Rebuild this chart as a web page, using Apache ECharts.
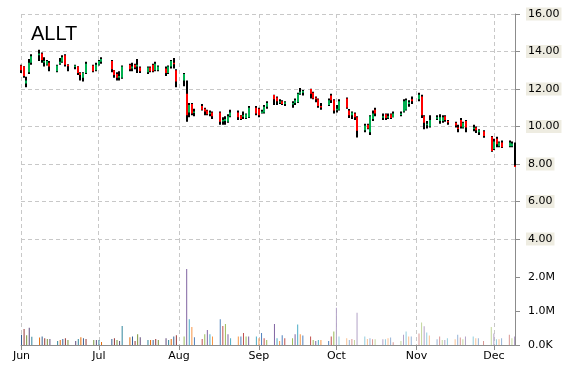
<!DOCTYPE html>
<html>
<head>
<meta charset="utf-8">
<script src="https://cdn.jsdelivr.net/npm/echarts@6/dist/echarts.min.js"></script>
<style>html,body{margin:0;padding:0;background:#fff}#c{width:570px;height:370px}</style>
</head>
<body>
<div id="c"></div>
<script>
const title = 'ALLT';
const dates = ['2015-06-01','2015-06-02','2015-06-03','2015-06-04','2015-06-05','2015-06-08','2015-06-09','2015-06-10','2015-06-11','2015-06-12','2015-06-15','2015-06-16','2015-06-17','2015-06-18','2015-06-19','2015-06-22','2015-06-23','2015-06-24','2015-06-25','2015-06-26','2015-06-29','2015-06-30',
'2015-07-01','2015-07-02','2015-07-06','2015-07-07','2015-07-08','2015-07-09','2015-07-10','2015-07-13','2015-07-14','2015-07-15','2015-07-16','2015-07-17','2015-07-20','2015-07-21','2015-07-22','2015-07-23','2015-07-24','2015-07-27','2015-07-28','2015-07-29','2015-07-30','2015-07-31',
'2015-08-03','2015-08-04','2015-08-05','2015-08-06','2015-08-07','2015-08-10','2015-08-11','2015-08-12','2015-08-13','2015-08-14','2015-08-17','2015-08-18','2015-08-19','2015-08-20','2015-08-21','2015-08-24','2015-08-25','2015-08-26','2015-08-27','2015-08-28','2015-08-31',
'2015-09-01','2015-09-02','2015-09-03','2015-09-04','2015-09-07','2015-09-08','2015-09-09','2015-09-10','2015-09-11','2015-09-14','2015-09-15','2015-09-16','2015-09-17','2015-09-18','2015-09-21','2015-09-22','2015-09-23','2015-09-24','2015-09-25','2015-09-28','2015-09-29','2015-09-30',
'2015-10-01','2015-10-02','2015-10-05','2015-10-06','2015-10-07','2015-10-08','2015-10-09','2015-10-12','2015-10-13','2015-10-14','2015-10-15','2015-10-16','2015-10-19','2015-10-20','2015-10-21','2015-10-22','2015-10-23','2015-10-26','2015-10-27','2015-10-28','2015-10-29','2015-10-30',
'2015-11-02','2015-11-03','2015-11-04','2015-11-05','2015-11-06','2015-11-09','2015-11-10','2015-11-11','2015-11-12','2015-11-13','2015-11-16','2015-11-17','2015-11-18','2015-11-19','2015-11-20','2015-11-23','2015-11-24','2015-11-25','2015-11-27','2015-11-30',
'2015-12-01','2015-12-02','2015-12-03','2015-12-04','2015-12-07','2015-12-08','2015-12-09'];
const open = [13.25,13.2,12.3,12.9,13.4,13.8,13.9,13.45,13.3,13.4,12.95,13.35,13.45,13.8,13.3,13.2,13.2,12.85,12.6,12.85,13.25,13.0,
13.3,13.45,13.5,13.0,12.8,12.6,12.6,13.3,13.1,13.3,13.2,13.15,12.9,13.15,13.3,13.0,13.0,13.1,12.85,13.2,13.4,13.0,
12.45,11.75,10.75,11.2,10.75,11.1,10.95,10.85,10.7,10.75,10.75,10.3,10.3,10.25,10.55,10.75,10.6,10.55,10.45,10.5,11.0,
10.95,10.75,10.75,11.05,11.68,11.55,11.3,11.35,11.2,11.2,11.25,11.3,11.75,11.8,12.0,11.8,11.55,11.45,11.1,11.15,11.65,11.4,
10.9,10.9,11.5,10.85,10.6,10.7,10.5,9.8,10.1,9.7,10.4,10.9,10.5,10.65,10.5,10.65,10.5,10.65,10.8,10.9,11.2,11.45,
11.45,11.6,10.55,10.1,10.0,10.45,10.3,10.3,10.55,10.3,10.2,9.95,10.35,9.95,10.3,9.9,9.95,9.7,9.75,9.45,
8.8,9.35,8.95,9.15,8.95,8.95,7.92];
const high = [13.3,13.22,12.65,13.6,13.85,14.1,13.95,13.7,13.55,13.5,13.3,13.65,13.8,13.85,13.32,13.3,13.22,12.9,12.9,13.45,13.3,13.4,
13.55,13.7,13.55,13.02,12.9,12.95,13.25,13.35,13.4,13.35,13.6,13.2,13.2,13.2,13.35,13.45,13.25,13.2,13.25,13.55,13.65,13.05,
12.85,12.45,11.25,11.25,10.95,11.2,11.0,10.9,10.85,10.8,10.8,10.5,10.55,10.65,10.9,10.85,10.62,10.8,10.7,11.1,11.1,
11.0,10.9,11.15,11.35,11.7,11.6,11.45,11.4,11.35,11.35,11.5,11.8,12.05,11.95,12.02,11.85,11.6,11.5,11.25,11.5,11.75,11.45,
11.15,11.45,11.55,10.93,10.8,10.75,10.55,10.15,10.15,10.6,10.85,11.0,10.7,10.7,10.7,10.7,10.8,10.8,11.45,11.5,11.4,11.6,
11.8,11.7,10.6,10.3,10.6,10.6,10.65,10.6,10.6,10.35,10.25,10.1,10.45,10.25,10.35,10.1,10.0,9.85,9.8,9.5,
9.35,9.45,9.2,9.25,9.25,9.2,9.15];
const low = [12.85,12.6,12.1,12.8,13.3,13.5,13.4,13.2,13.25,12.95,12.9,13.3,13.4,13.2,12.95,13.05,12.75,12.45,12.4,12.8,12.9,12.95,
13.25,13.35,12.9,12.6,12.45,12.45,12.55,12.95,12.95,13.05,12.85,12.85,12.8,12.9,12.9,12.95,12.95,12.7,12.8,13.1,13.1,12.1,
12.15,10.25,10.5,10.6,10.55,10.85,10.6,10.6,10.55,10.4,10.1,10.1,10.1,10.2,10.5,10.35,10.35,10.4,10.4,10.45,10.6,
10.5,10.7,10.7,10.95,11.15,11.15,11.2,11.15,11.1,11.0,11.15,11.25,11.7,11.65,11.5,11.45,11.3,11.0,10.9,11.1,11.25,10.7,
10.75,10.85,10.95,10.45,10.4,10.35,9.42,9.7,9.85,9.55,10.3,10.55,10.35,10.35,10.4,10.4,10.5,10.55,10.75,10.85,11.05,11.2,
11.35,10.45,9.85,9.9,9.95,10.35,10.15,10.2,10.25,10.1,9.95,9.7,9.9,9.9,9.7,9.75,9.65,9.55,9.4,8.65,
8.75,8.9,8.9,8.85,8.9,8.9,7.85];
const close = [13.0,12.7,12.45,13.4,13.75,13.9,13.55,13.5,13.5,13.2,13.25,13.45,13.7,13.3,13.22,13.25,12.85,12.75,12.85,13.35,12.95,13.3,
13.5,13.6,13.05,12.75,12.6,12.7,13.2,13.05,13.2,13.15,13.3,12.95,13.15,12.95,12.95,13.35,13.2,12.85,13.2,13.5,13.35,12.4,
12.8,10.6,11.15,10.7,10.8,10.9,10.8,10.65,10.75,10.55,10.25,10.35,10.4,10.55,10.75,10.5,10.4,10.6,10.65,11.0,10.7,
10.6,10.8,11.05,11.25,11.45,11.35,11.35,11.2,11.3,11.25,11.4,11.75,11.85,11.9,11.75,11.5,11.45,11.1,11.05,11.4,11.4,10.85,
10.95,11.35,11.0,10.6,10.75,10.5,9.78,10.05,9.9,10.55,10.7,10.7,10.55,10.45,10.55,10.45,10.7,10.7,11.35,11.4,11.3,11.35,
11.7,10.6,10.2,10.15,10.35,10.5,10.5,10.5,10.35,10.25,10.05,9.9,10.0,10.2,9.95,9.95,9.8,9.8,9.5,8.7,
9.2,9.05,9.15,8.9,9.15,9.1,7.86];
const volume = [300000,470000,290000,510000,240000,220000,250000,200000,180000,180000,120000,150000,180000,200000,150000,120000,180000,230000,200000,180000,150000,150000,
150000,90000,180000,200000,150000,120000,560000,230000,250000,120000,320000,230000,150000,150000,150000,180000,150000,200000,150000,180000,250000,290000,
250000,2240000,760000,530000,230000,180000,320000,440000,320000,250000,760000,560000,620000,320000,200000,250000,250000,350000,250000,250000,250000,
200000,350000,200000,150000,620000,200000,120000,290000,200000,200000,320000,600000,320000,280000,250000,150000,120000,150000,150000,120000,250000,400000,
1100000,250000,200000,150000,180000,150000,950000,250000,180000,200000,170000,170000,170000,170000,200000,220000,80000,120000,300000,400000,250000,250000,
340000,660000,550000,370000,280000,170000,250000,150000,150000,200000,170000,300000,220000,170000,250000,250000,200000,200000,120000,530000,
340000,170000,170000,200000,300000,200000,250000];
const priceTicks = [4, 16, 2];
const volumeTicks = [0, 1000000, 2000000];

const upColor = '#00b050', downColor = '#ff0000';
const paletteDark = ['#376092','#953735','#77933c','#604a7b','#31859c','#e46c0a'];
const paletteNormal = ['#4f81bd','#c0504d','#9bbb59','#8064a2','#4bacc6','#f79646'];
const paletteLight = ['#95b3d7','#d99694','#c3d69b','#b3a2c7','#93cddd','#fac090'];
function volColor(i) {
  const m = +dates[i].slice(5, 7);
  const p = m <= 7 ? paletteDark : (m <= 9 ? paletteNormal : paletteLight);
  return p[i % 6];
}

const font = 'DejaVu Sans';
const chart = echarts.init(document.getElementById('c'), null, {renderer: 'canvas'});
const dash = {type: [4, 3], color: '#c8c8c8', width: 1};
const xMin = dates[0], xMax = dates[dates.length - 1];
const monthMs = 30 * 24 * 3600 * 1000;

chart.setOption({
  animation: false,
  backgroundColor: '#fff',
  title: {text: title, left: 26, top: 19, textStyle: {fontFamily: 'Liberation Sans', fontSize: 20, fontWeight: 'normal', color: '#000'}},
  grid: [
    {left: 21, right: 55, top: 14, height: 225},
    {left: 21, right: 55, top: 239, bottom: 25}
  ],
  xAxis: [
    {type: 'time', gridIndex: 0, min: xMin, max: xMax, splitNumber: 7, minInterval: monthMs, maxInterval: monthMs * 1.05,
     axisLine: {show: false}, axisTick: {show: false}, axisLabel: {show: false},
     splitLine: {show: true, lineStyle: dash}},
    {type: 'time', gridIndex: 1, min: xMin, max: xMax, splitNumber: 7, minInterval: monthMs, maxInterval: monthMs * 1.05,
     axisLine: {show: true, lineStyle: {color: '#8c8c8c'}},
     axisTick: {show: true, length: 5, lineStyle: {color: '#8c8c8c'}},
     axisLabel: {color: '#000', fontFamily: font, fontSize: 11, margin: 6, formatter: '{MMM}', hideOverlap: false},
     splitLine: {show: true, lineStyle: dash}}
  ],
  yAxis: [
    {type: 'value', gridIndex: 0, position: 'right', min: priceTicks[0], max: priceTicks[1], interval: priceTicks[2],
     axisLine: {show: true, lineStyle: {color: '#8c8c8c'}},
     axisTick: {show: true, length: 5, lineStyle: {color: '#8c8c8c'}},
     axisLabel: {color: '#000', fontFamily: font, fontSize: 11, margin: 11, backgroundColor: '#eeece1', padding: [1, 2],
                 formatter: v => v.toFixed(2)},
     splitLine: {show: true, lineStyle: dash}},
    {type: 'value', gridIndex: 1, position: 'right', min: 0, max: 3120000,
     axisLine: {show: true, lineStyle: {color: '#8c8c8c'}},
     axisTick: {show: true, length: 5, lineStyle: {color: '#8c8c8c'}, customValues: volumeTicks},
     axisLabel: {color: '#000', fontFamily: font, fontSize: 11, margin: 13, customValues: volumeTicks,
                 formatter: v => v === 0 ? '0.0K' : (v / 1e6).toFixed(1) + 'M'},
     splitLine: {show: false}}
  ],
  series: [
    {
      type: 'custom', xAxisIndex: 0, yAxisIndex: 0, clip: false,
      encode: {x: 0, y: [1, 2, 3, 4]},
      data: dates.map((d, i) => [d, open[i], close[i], low[i], high[i]]),
      renderItem: function (params, api) {
        const t = api.value(0);
        const pO = api.coord([t, api.value(1)]);
        const pC = api.coord([t, api.value(2)]);
        const pL = api.coord([t, api.value(3)]);
        const pH = api.coord([t, api.value(4)]);
        const x = Math.round(pO[0]) - 1;
        const up = api.value(2) >= api.value(1);
        const top = Math.min(pO[1], pC[1]), bot = Math.max(pO[1], pC[1]);
        return {type: 'group', children: [
          {type: 'rect', shape: {x: x, y: pH[1], width: 2, height: pL[1] - pH[1]}, style: {fill: '#000'}},
          {type: 'rect', shape: {x: x, y: top, width: 2, height: Math.max(1.5, bot - top)}, style: {fill: up ? upColor : downColor}}
        ]};
      }
    },
    {
      type: 'bar', xAxisIndex: 1, yAxisIndex: 1, barWidth: 1,
      data: dates.map((d, i) => ({value: [d, volume[i]], itemStyle: {color: volColor(i)}}))
    }
  ]
});
</script>
</body>
</html>
